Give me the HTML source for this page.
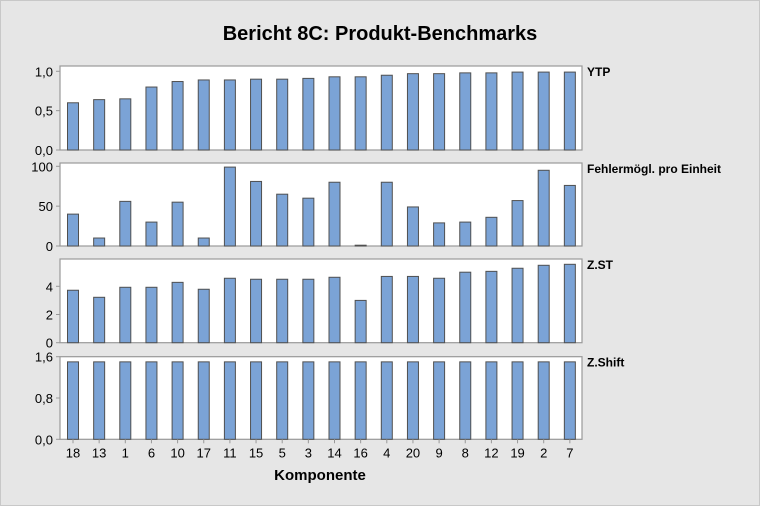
<!DOCTYPE html>
<html><head><meta charset="utf-8"><style>
html,body{margin:0;padding:0;background:#e6e6e6;}
svg{display:block;font-family:"Liberation Sans",sans-serif;}
</style></head><body>
<svg id="chart" width="760" height="506" viewBox="0 0 760 506">
<rect x="0.5" y="0.5" width="759" height="505" fill="#e6e6e6" stroke="#c8c8c8"/>
<text x="380" y="40" text-anchor="middle" font-size="20" font-weight="bold" fill="#000">Bericht 8C: Produkt-Benchmarks</text>
<text x="320" y="480" text-anchor="middle" font-size="15" font-weight="bold" fill="#000">Komponente</text>
</svg>
<script>
const categories = ["18","13","1","6","10","17","11","15","5","3","14","16","4","20","9","8","12","19","2","7"];
const ytpValues = [0.60,0.64,0.65,0.80,0.87,0.89,0.89,0.90,0.90,0.91,0.93,0.93,0.95,0.97,0.97,0.98,0.98,0.99,0.99,0.99];
const fehlerValues = [40,10,56,30,55,10,99,81,65,60,80,1,80,49,29,30,36,57,95,76];
const zstValues = [3.72,3.22,3.93,3.93,4.28,3.79,4.57,4.5,4.5,4.5,4.64,3.0,4.7,4.7,4.57,5.0,5.06,5.28,5.49,5.56];
const zshiftValues = [1.5,1.5,1.5,1.5,1.5,1.5,1.5,1.5,1.5,1.5,1.5,1.5,1.5,1.5,1.5,1.5,1.5,1.5,1.5,1.5];
const ytpTicks = ["0,0","0,5","1,0"];
const ytpTickValues = [0,0.5,1.0];
const fehlerTickValues = [0,50,100];
const zstTickValues = [0,2,4];
const zshiftTicks = ["0,0","0,8","1,6"];
const zshiftTickValues = [0,0.8,1.6];

const svg = document.getElementById('chart');
const NS = 'http://www.w3.org/2000/svg';
const left = 60, right = 582;
const x0 = 73, step = 26.15;
function xScale(i){ return x0 + i*step; }

const panels = [
  {name:'ytp', label:'YTP', top:66, bottom:150, max:1.0, maxY:71.3, vals:ytpValues, ticks:ytpTickValues, tickLabels:ytpTicks},
  {name:'fehler', label:'Fehlermögl. pro Einheit', top:163, bottom:246, max:100, maxY:166.3, vals:fehlerValues, ticks:fehlerTickValues, tickLabels:fehlerTickValues.map(String)},
  {name:'zst', label:'Z.ST', top:259, bottom:342.7, max:4, maxY:286.3, vals:zstValues, ticks:zstTickValues, tickLabels:zstTickValues.map(String)},
  {name:'zshift', label:'Z.Shift', top:356.7, bottom:439.3, max:1.6, maxY:356.7, vals:zshiftValues, ticks:zshiftTickValues, tickLabels:zshiftTicks}
];

function mk(tag, attrs){ const e=document.createElementNS(NS,tag); for(const k in attrs) e.setAttribute(k,attrs[k]); svg.appendChild(e); return e; }

panels.forEach(p=>{
  const yScale = v => p.bottom - (v/p.max)*(p.bottom-p.maxY);
  const bg = mk('rect',{x:left,y:p.top,width:right-left,height:p.bottom-p.top,fill:'#fff',stroke:'#999','stroke-width':1.2});
  
  
  const lab = mk('text',{x:587,y:p.top+10,'font-size':12,'font-weight':'bold',fill:'#000'});
  lab.textContent = p.label;
  
  
  p.ticks.forEach((t,i)=>{
    const y = yScale(t);
    const tk = mk('line',{x1:left-4,x2:left,y1:y,y2:y,stroke:'#999'});
    
    
    const tl = mk('text',{x:left-7,y:y+5,'text-anchor':'end','font-size':13,fill:'#000'});
    tl.textContent = p.tickLabels[i];
    
    
  });
  p.vals.forEach((v,i)=>{
    const y = yScale(v);
    const b = mk('rect',{x:xScale(i)-5.5,y:y,width:11,height:Math.max(0.5,p.bottom-y),fill:'#7ba3d6',stroke:'#505050','stroke-width':1});
    
    
  });
});
const lastBottom = panels[3].bottom;
categories.forEach((c,i)=>{
  const tk = mk('line',{x1:xScale(i),x2:xScale(i),y1:lastBottom,y2:lastBottom+4,stroke:'#999'});
  
  
  const t = mk('text',{x:xScale(i),y:lastBottom+18,'text-anchor':'middle','font-size':13,fill:'#000'});
  t.textContent = c;
  
  
});
</script>
</body></html>
